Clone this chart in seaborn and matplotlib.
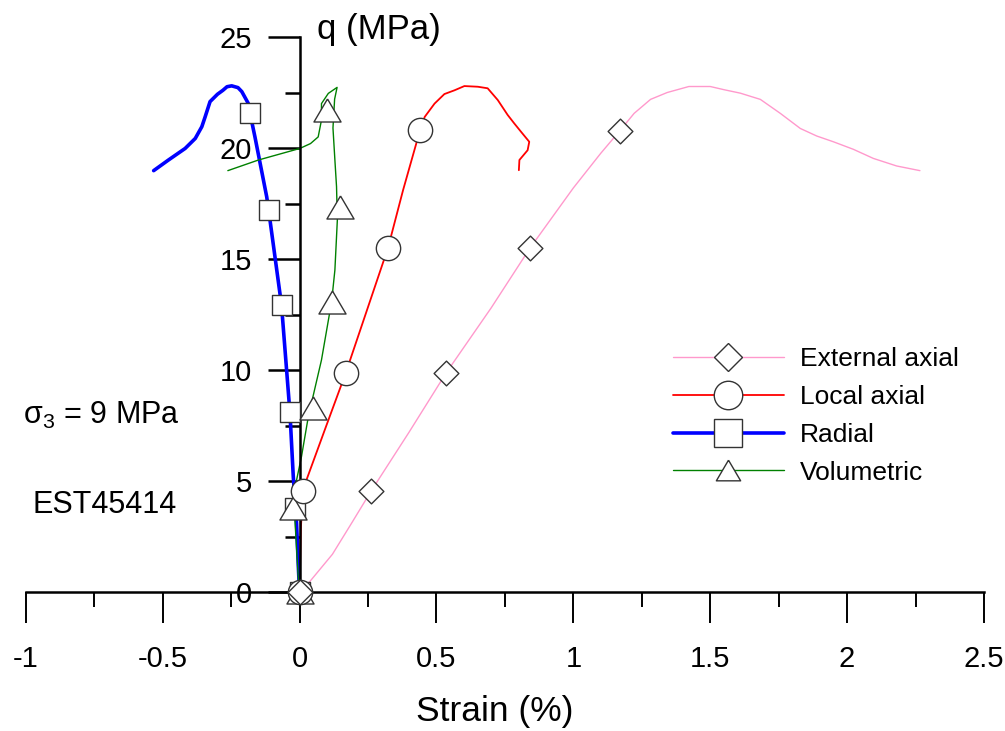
import matplotlib
matplotlib.use("Agg")
import matplotlib.pyplot as plt
from matplotlib.lines import Line2D
import seaborn as sns
import pandas as pd

# ---------------- data ----------------
ext_x = [0, 0.036, 0.12, 0.19, 0.262, 0.40, 0.536, 0.70, 0.841, 1.00, 1.10, 1.17, 1.222, 1.282,
         1.343, 1.422, 1.50, 1.549, 1.61, 1.683, 1.756, 1.829, 1.889, 1.95, 2.023, 2.096,
         2.181, 2.266]
ext_q = [0, 0.45, 1.7, 3.1, 4.56, 7.2, 9.88, 12.8, 15.48, 18.2, 19.76, 20.78, 21.56, 22.19,
         22.5, 22.77, 22.77, 22.63, 22.47, 22.19, 21.56, 20.88, 20.54, 20.28, 19.94, 19.53,
         19.19, 18.98]

loc_x = [0, 0.005, 0.011, 0.025, 0.092, 0.169, 0.323, 0.378, 0.44, 0.457, 0.493, 0.529,
         0.566, 0.602, 0.651, 0.687, 0.724, 0.76, 0.784, 0.809, 0.839, 0.833, 0.803, 0.801]
loc_q = [0, 2.94, 4.2, 5.04, 7.3, 9.88, 15.5, 18.1, 20.8, 21.4, 22.0, 22.43,
         22.6, 22.79, 22.76, 22.69, 22.16, 21.49, 21.11, 20.73, 20.28, 19.9, 19.46, 19.0]

rad_x = [0, -0.004, -0.011, -0.023, -0.035, -0.066, -0.113, -0.12, -0.163, -0.181, -0.187,
         -0.211, -0.225, -0.248, -0.265, -0.28, -0.30, -0.327, -0.345, -0.357, -0.381,
         -0.418, -0.48, -0.533]
rad_q = [0, 1.0, 3.1, 5.2, 8.05, 12.93, 17.2, 17.8, 20.5, 21.56, 22.0,
         22.54, 22.72, 22.8, 22.76, 22.6, 22.42, 22.09, 21.4, 20.96, 20.43,
         19.98, 19.45, 18.98]

vol_x = [0, -0.005, -0.017, -0.011, 0.007, 0.032, 0.08, 0.117, 0.129, 0.138, 0.135, 0.129,
         0.122, 0.128, 0.137, 0.105, 0.08, 0.08, 0.068, 0.04, 0.001, -0.15, -0.262]
vol_q = [0, 0.7, 3.24, 5.04, 6.1, 7.9, 10.45, 13.08, 14.5, 16.76, 18.26, 19.46,
         20.9, 22.2, 22.73, 22.46, 22.0, 21.26, 20.5, 20.2, 19.98, 19.46, 18.98]

# marker points
ext_mx = [0, 0.262, 0.536, 0.841, 1.17]
ext_mq = [0, 4.56, 9.88, 15.48, 20.78]
loc_mx = [0, 0.011, 0.169, 0.323, 0.44]
loc_mq = [0, 4.56, 9.88, 15.5, 20.8]
rad_mx = [0, -0.015, -0.035, -0.066, -0.113, -0.181]
rad_mq = [0, 3.8, 8.1, 12.93, 17.2, 21.56]
vol_mx = [0, -0.023, 0.05, 0.117, 0.146, 0.102]
vol_mq = [0, 3.77, 8.27, 13.08, 17.34, 21.7]

series_names = ["External axial", "Local axial", "Radial", "Volumetric"]
x_ticks = [-1, -0.5, 0, 0.5, 1, 1.5, 2, 2.5]
x_tick_labels = ["-1", "-0.5", "0", "0.5", "1", "1.5", "2", "2.5"]
y_ticks = [0, 5, 10, 15, 20, 25]
y_tick_labels = ["0", "5", "10", "15", "20", "25"]

# ---------------- style ----------------
sns.set_theme(style="white")
plt.rcParams['font.family'] = ['Liberation Sans', 'DejaVu Sans']
plt.rcParams['mathtext.fontset'] = 'custom'
plt.rcParams['mathtext.rm'] = 'Liberation Sans'
plt.rcParams['mathtext.it'] = 'Liberation Sans:italic'
for k in ['text.color', 'axes.labelcolor', 'xtick.color', 'ytick.color']:
    plt.rcParams[k] = 'black'

colors = ["#ff99cc", "#ff0000", "#0000ff", "#008000"]
lws = [1.0, 1.3, 2.6, 1.0]
tri = [(0, 0.85), (-1, -0.85), (1, -0.85), (0, 0.85)]
markers = ["D", "o", "s", tri]
msizes = [12.6, 17.5, 14.0, 19.5]
leg_ms = [14.3, 20.5, 20.5, 17.5]
edge = "#333333"

fig = plt.figure(figsize=(10.05, 7.31), dpi=100)
ax = fig.add_axes([25.8 / 1005, (731 - 592) / 731, (984 - 25.8) / 1005, 555 / 731])

curves = [(ext_x, ext_q), (loc_x, loc_q), (rad_x, rad_q), (vol_x, vol_q)]
marks = [(ext_mx, ext_mq), (loc_mx, loc_mq), (rad_mx, rad_mq), (vol_mx, vol_mq)]

for i, (cx, cq) in enumerate(curves):
    df = pd.DataFrame({"x": cx, "q": cq})
    sns.lineplot(data=df, x="x", y="q", sort=False, estimator=None, color=colors[i],
                 linewidth=lws[i], ax=ax, zorder=2)

# draw order: squares, triangles, circles, diamonds
for i in [2, 3, 1, 0]:
    mx, mq = marks[i]
    df = pd.DataFrame({"x": mx, "q": mq})
    sns.scatterplot(data=df, x="x", y="q", marker=markers[i], s=msizes[i] ** 2,
                    facecolor="white", edgecolor=edge, linewidth=1.0, ax=ax,
                    zorder=4, clip_on=False)

ax.set_xlim(-1, 2.5)
ax.set_ylim(0, 25)
ax.set_xlabel("")
ax.set_ylabel("")
for s in ["top", "right"]:
    ax.spines[s].set_visible(False)
ax.spines["left"].set_position(("data", 0))
ax.spines["bottom"].set_position(("data", 0))
for s in ["left", "bottom"]:
    ax.spines[s].set_color("black")
    ax.spines[s].set_linewidth(1.8)
    ax.spines[s].set_zorder(3)

ax.set_xticks(x_ticks)
ax.set_xticklabels(x_tick_labels)
ax.set_xticks([-0.75, -0.25, 0.25, 0.75, 1.25, 1.75, 2.25], minor=True)
ax.set_yticks(y_ticks)
ax.set_yticklabels(y_tick_labels)
ax.set_yticks([2.5, 7.5, 12.5, 17.5, 22.5], minor=True)

ax.tick_params(axis="x", which="major", direction="out", length=22, width=1.4,
               pad=16, labelsize=21, colors="black", bottom=True)
ax.tick_params(axis="x", which="minor", direction="out", length=11, width=1.4, bottom=True)
ax.tick_params(axis="y", which="major", direction="out", length=23, width=1.8,
               pad=11, labelsize=21, colors="black", left=True)
ax.tick_params(axis="y", which="minor", direction="out", length=11, width=1.8, left=True)
ax.grid(False)

fig.text(317 / 1005, 1 - 30 / 731, "q (MPa)", fontsize=25, ha="left", va="center")
fig.text(495 / 1005, 1 - 712 / 731, "Strain (%)", fontsize=25.5, ha="center", va="center")
fig.text(101 / 1005, 1 - 415 / 731, "σ$_3$ = 9 MPa", fontsize=22, ha="center", va="center")
fig.text(105 / 1005, 1 - 505 / 731, "EST45414", fontsize=22, ha="center", va="center")

handles = [Line2D([], [], color=colors[i], lw=lws[i], marker=markers[i], ms=leg_ms[i],
                  mfc="white", mec=edge, mew=1.0) for i in range(4)]
leg = ax.legend(handles, series_names, loc="center left", frameon=False, fontsize=19,
                handlelength=4.2, handletextpad=0.6, labelspacing=0.52,
                bbox_to_anchor=(673 / 1005, 1 - 416 / 731), bbox_transform=fig.transFigure,
                borderpad=0, borderaxespad=0)

fig.savefig("out.png", dpi=100)
